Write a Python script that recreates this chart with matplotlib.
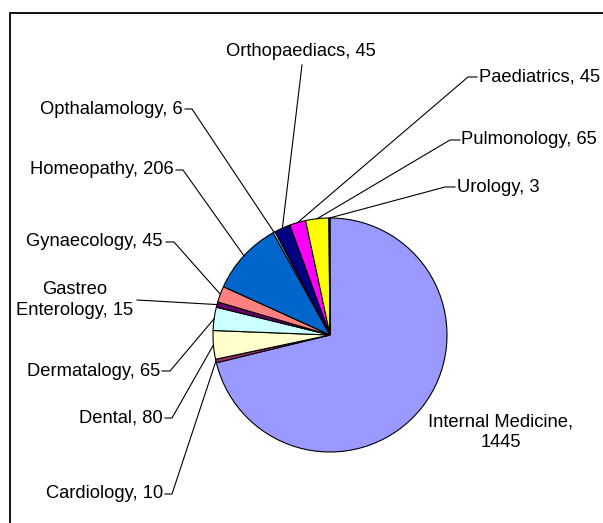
import matplotlib

matplotlib.use('Agg')
import matplotlib.pyplot as plt
import numpy as np
from matplotlib.patches import Rectangle

# 数据 (顺时针, 从 12 点钟开始)
departments = ['Internal Medicine', 'Cardiology', 'Dental', 'Dermatalogy',
               'Gastreo\nEnterology', 'Gynaecology', 'Homeopathy', 'Opthalamology',
               'Orthopaediacs', 'Paediatrics', 'Pulmonology', 'Urology']
patients = [1445, 10, 80, 65, 15, 45, 206, 6, 45, 45, 65, 3]
colors = ['#9999FF', '#993366', '#FFFFCC', '#CCFFFF', '#660066', '#FF8080',
          '#0066CC', '#CCCCFF', '#000080', '#FF00FF', '#FFFF00', '#00FFFF']

W, H = 603, 523
CX, CY, R = 330, 335, 117   # 像素坐标 (y 向下)

# 标签布局: (文字 x, 文字 y, 对齐, 名称与数值间分隔, 引线折点) —— 像素坐标, None 表示无引线
label_layout = [
    (501, 432, 'center', ',\n', None),
    (163, 494, 'right', ', ', [(165, 494), (172, 494)]),
    (163, 418, 'right', ', ', [(165, 418), (172, 418)]),
    (160, 371, 'right', ', ', [(162, 371), (170, 371)]),
    (75, 300, 'center', ', ', [(137, 300)]),
    (162, 242, 'right', ', ', [(166, 242), (174, 242)]),
    (174, 170, 'right', ', ', [(176, 170), (183, 170)]),
    (183, 109, 'right', ', ', [(185, 109), (192, 109)]),
    (301, 51, 'center', ', ', [(302, 65)]),
    (479, 77, 'left', ', ', [(477, 77), (468, 77)]),
    (461, 140, 'left', ', ', [(460, 140), (450, 140)]),
    (457, 187, 'left', ', ', [(455, 187), (445, 187)]),
]


def Y(py):
    return H - py


plt.rcParams['font.family'] = ['Liberation Sans', 'DejaVu Sans']
fig = plt.figure(figsize=(W / 100, H / 100), dpi=100)
ax = fig.add_axes([0, 0, 1, 1])

wedges, _ = ax.pie(patients, colors=colors, startangle=90, counterclock=False,
                   center=(CX, Y(CY)), radius=R, frame=True,
                   wedgeprops=dict(edgecolor='black', linewidth=0.8))

for wedge, name, val, (tx, ty, ha, sep, lead) in zip(wedges, departments, patients, label_layout):
    ax.text(tx, Y(ty), f'{name}{sep}{val}', ha=ha, va='center', fontsize=13.2,
            color='black', linespacing=1.25, multialignment='center')
    if lead is None:
        continue
    mid = np.deg2rad((wedge.theta1 + wedge.theta2) / 2)
    ex, ey = CX + R * np.cos(mid), Y(CY) + R * np.sin(mid)
    pts = [(x, Y(y)) for x, y in lead] + [(ex, ey)]
    xs, ys = zip(*pts)
    ax.plot(xs, ys, color='black', lw=0.8, solid_joinstyle='miter')

# 图表外框 (右/下边超出画面)
ax.add_patch(Rectangle((10, Y(540)), 620, 540 - 13, fill=False,
                       edgecolor='black', lw=1.3, clip_on=False))

ax.set_xlim(0, W)
ax.set_ylim(0, H)
ax.set_aspect('equal')
ax.axis('off')
fig.savefig('out.png', dpi=100)
